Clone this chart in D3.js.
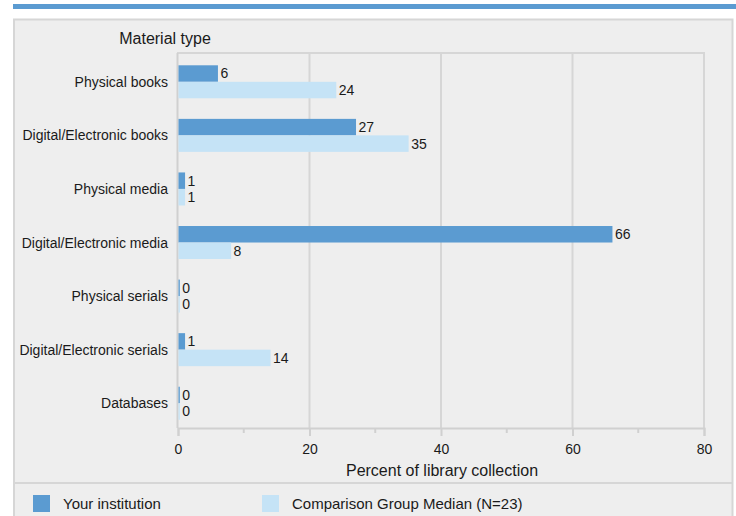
<!DOCTYPE html>
<html>
<head>
<meta charset="utf-8">
<script src="https://cdn.jsdelivr.net/npm/d3@7"></script>
<style>
  body { margin: 0; background: #fff; }
  text { font-family: "Liberation Sans", Arial, sans-serif; fill: #1a1a1a; }
</style>
</head>
<body>
<svg id="chart"></svg>
<script>
const categories = [
  'Physical books',
  'Digital/Electronic books',
  'Physical media',
  'Digital/Electronic media',
  'Physical serials',
  'Digital/Electronic serials',
  'Databases'
];
const series = ['Your institution', 'Comparison Group Median (N=23)'];
const yourInstitution = [6, 27, 1, 66, 0.2, 1, 0.2];
const comparisonMedian = [24, 35, 1, 8, 0.2, 14, 0.2];
const xTicks = [0, 20, 40, 60, 80];
const colors = ['#5b9bd1', '#c5e3f6'];

const width = 736;
const height = 516;

const svg = d3.select('#chart').attr('width', width).attr('height', height);

// top band and panel
svg.append('rect').attr('x', 13).attr('y', 4).attr('width', width - 13).attr('height', 5).attr('fill', '#5b9bd1');
svg.append('rect')
  .attr('x', 14).attr('y', 19.5).attr('width', 718.5).attr('height', 520)
  .attr('fill', '#eeeeee').attr('stroke', '#d6d6d6').attr('stroke-width', 2);

const plot = { left: 178, right: 704, top: 53, bottom: 428 };

const x = d3.scaleLinear().domain([0, 80]).range([plot.left, plot.right]);
const y = d3.scaleBand().domain(categories).range([plot.top, plot.bottom]).padding(0);
const inner = d3.scaleBand().domain(series).range([12.3, 45.3]);

// grid
const g = svg.append('g');
g.selectAll('.grid')
  .data(xTicks.slice(1))
  .enter()
  .append('line')
  .attr('x1', d => x(d)).attr('x2', d => x(d))
  .attr('y1', plot.top).attr('y2', plot.bottom)
  .attr('stroke', '#d6d6d6').attr('stroke-width', 2);
g.append('line')
  .attr('x1', plot.left - 1).attr('x2', plot.right + 1)
  .attr('y1', plot.top).attr('y2', plot.top)
  .attr('stroke', '#d6d6d6').attr('stroke-width', 2);
g.append('line')
  .attr('x1', plot.left - 0.5).attr('x2', plot.left - 0.5)
  .attr('y1', plot.top).attr('y2', plot.bottom)
  .attr('stroke', '#d0d0d0').attr('stroke-width', 2);

// x axis
const xAxis = svg.append('g')
  .attr('transform', 'translate(0,' + plot.bottom + ')')
  .call(d3.axisBottom(x).tickValues(xTicks).tickSize(8).tickPadding(8));
xAxis.select('.domain').attr('stroke', '#d0d0d0').attr('stroke-width', 2);
xAxis.selectAll('.tick line').attr('stroke', '#d0d0d0').attr('stroke-width', 2);
xAxis.selectAll('.tick text').attr('font-size', '14px').attr('fill', '#1a1a1a')
  .style('font-family', '"Liberation Sans", Arial, sans-serif');
xAxis.selectAll('.minor')
  .data([10, 30, 50, 70])
  .enter()
  .append('line')
  .attr('x1', d => x(d)).attr('x2', d => x(d))
  .attr('y1', 0).attr('y2', 5)
  .attr('stroke', '#d0d0d0').attr('stroke-width', 2);

svg.append('text')
  .attr('x', 442).attr('y', 476)
  .attr('font-size', '16px').attr('text-anchor', 'middle')
  .text('Percent of library collection');

svg.append('text')
  .attr('x', 165).attr('y', 44)
  .attr('font-size', '16px').attr('text-anchor', 'middle')
  .text('Material type');

// category labels
svg.selectAll('.cat')
  .data(categories)
  .enter()
  .append('text')
  .attr('x', 168)
  .attr('y', d => y(d) + 29)
  .attr('dy', '0.35em')
  .attr('font-size', '14px')
  .attr('text-anchor', 'end')
  .text(d => d);

// bars
const rows = categories.map((c, i) => ({
  category: c,
  values: [
    { series: series[0], value: yourInstitution[i] },
    { series: series[1], value: comparisonMedian[i] }
  ]
}));

const groups = svg.selectAll('.row')
  .data(rows)
  .enter()
  .append('g')
  .attr('transform', d => 'translate(0,' + y(d.category) + ')');

groups.selectAll('rect')
  .data(d => d.values)
  .enter()
  .append('rect')
  .attr('x', x(0) + 0.5)
  .attr('y', d => inner(d.series))
  .attr('width', d => x(d.value) - x(0))
  .attr('height', inner.bandwidth())
  .attr('fill', (d, i) => colors[i]);

groups.selectAll('.val')
  .data(d => d.values)
  .enter()
  .append('text')
  .attr('x', d => x(d.value) + 3)
  .attr('y', d => inner(d.series) + inner.bandwidth() / 2)
  .attr('dy', '0.35em')
  .attr('font-size', '14px')
  .text(d => d3.format('.0f')(d.value));

// legend
svg.append('line')
  .attr('x1', 14).attr('x2', 732.5).attr('y1', 483).attr('y2', 483)
  .attr('stroke', '#d6d6d6').attr('stroke-width', 2);

const legend = svg.selectAll('.legend')
  .data(series)
  .enter()
  .append('g')
  .attr('transform', (d, i) => 'translate(' + [33, 262][i] + ',495)');
legend.append('rect')
  .attr('width', 17).attr('height', 17)
  .attr('fill', (d, i) => colors[i]);
legend.append('text')
  .attr('x', 30).attr('y', 8.5).attr('dy', '0.35em')
  .attr('font-size', '15px')
  .text(d => d);
</script>
</body>
</html>
